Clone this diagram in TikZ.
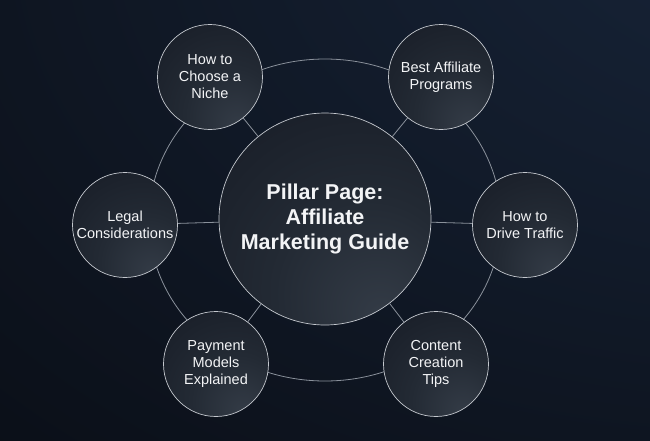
\documentclass[tikz,border=0pt]{standalone}
\usepackage{fontspec}
\setmainfont{Liberation Sans}
\definecolor{bgdark}{HTML}{0A0E16}
\definecolor{bglight}{HTML}{1A2940}
\definecolor{bub1}{HTML}{343C47}
\definecolor{bub2}{HTML}{232A34}
\definecolor{bub3}{HTML}{171C26}
\definecolor{bub4}{HTML}{111621}
\definecolor{bordc}{HTML}{C4C8CE}
\definecolor{linkc}{HTML}{8A919B}
\definecolor{txt}{HTML}{F3F4F6}
\pgfdeclareradialshading{bubble}{\pgfpoint{14bp}{-24bp}}{color(0bp)=(bub1); color(22bp)=(bub2); color(48bp)=(bub3); color(80bp)=(bub4)}
\pgfdeclareradialshading{bgglow}{\pgfpoint{50bp}{50bp}}{color(0bp)=(bglight); color(78bp)=(bgdark); color(160bp)=(bgdark)}
\tikzset{
  bubblenode/.style={circle, draw=bordc, line width=0.7pt, shading=bubble, align=center, text=txt, inner sep=0pt},
  sat/.style={bubblenode, minimum size=105pt, font=\fontsize{14.5}{17}\selectfont},
  hub/.style={bubblenode, minimum size=212pt, font=\bfseries\fontsize{21.5}{25}\selectfont},
  link/.style={draw=linkc, line width=0.8pt}
}
\begin{document}
\begin{tikzpicture}[x=1pt,y=-1pt]
\useasboundingbox (0,0) rectangle (650,440);
\path[shading=bgglow] (0,0) rectangle (650,440);
% ring
\draw[link] (325,220) ellipse [x radius=176, y radius=161];
% nodes
\node[hub] (c) at (325,219) {Pillar Page:\\Affiliate\\Marketing Guide};
\node[sat] (tl) at (210,77) {How to\\Choose a\\Niche};
\node[sat] (tr) at (441,77) {Best Affiliate\\Programs};
\node[sat] (r) at (525,225) {How to\\Drive Traffic};
\node[sat] (br) at (436,364) {Content\\Creation\\Tips};
\node[sat] (bl) at (216,364) {Payment\\Models\\Explained};
\node[sat] (l) at (125,225) {Legal\\Considerations};
% spokes
\foreach \s in {tl,tr,r,br,bl,l} \draw[link] (c) -- (\s);
\end{tikzpicture}
\end{document}
